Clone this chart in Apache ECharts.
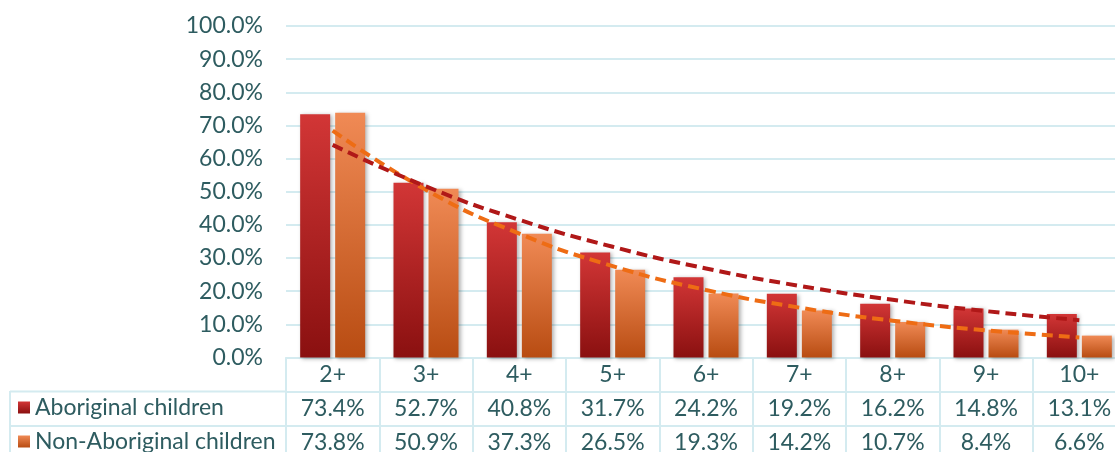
<!DOCTYPE html>
<html>
<head>
<meta charset="utf-8">
<script src="https://cdn.jsdelivr.net/npm/echarts@6/dist/echarts.min.js"></script>
<style>
  html, body { margin: 0; padding: 0; background: #ffffff; }
  #chart { width: 1115px; height: 452px; }
</style>
</head>
<body>
<div id="chart"></div>
<script>
// Share of children, by number of contacts
const categories = ['2+', '3+', '4+', '5+', '6+', '7+', '8+', '9+', '10+'];
const aboriginal = [73.4, 52.7, 40.8, 31.7, 24.2, 19.2, 16.2, 14.8, 13.1];
const nonAboriginal = [73.8, 50.9, 37.3, 26.5, 19.3, 14.2, 10.7, 8.4, 6.6];
const seriesNames = ['Aboriginal children', 'Non-Aboriginal children'];
const yTicks = { min: 0, max: 100, interval: 10 };

// Exponential trendline y = a * e^(b x), least squares on ln(y), x = 1..n
function expTrend(values) {
  const n = values.length;
  const xs = values.map((_, i) => i + 1);
  const ls = values.map(v => Math.log(v));
  const mx = xs.reduce((s, x) => s + x, 0) / n;
  const ml = ls.reduce((s, l) => s + l, 0) / n;
  let sxy = 0, sxx = 0;
  xs.forEach((x, i) => { sxy += (x - mx) * (ls[i] - ml); sxx += (x - mx) * (x - mx); });
  const b = sxy / sxx;
  const a = ml - b * mx;
  return xs.map(x => Math.exp(a + b * x));
}

const TEXT = '#2e5c60';
const RULE = '#d4ebf0';
const FONT = 'Lato';
const FS = 23;

const redFill = new echarts.graphic.LinearGradient(0, 0, 0, 1, [
  { offset: 0, color: '#d23636' }, { offset: 1, color: '#8a1010' }
]);
const orangeFill = new echarts.graphic.LinearGradient(0, 0, 0, 1, [
  { offset: 0, color: '#f08a55' }, { offset: 1, color: '#b84c12' }
]);

const GRID = { left: 286, top: 26, width: 840, height: 331.5, outerBoundsMode: 'none', containLabel: false };
const ROW = 34;

function tableAxis(values, idx) {
  return {
    type: 'category', data: categories, gridIndex: 0, position: 'bottom',
    offset: ROW * idx,
    axisLine: { show: true, lineStyle: { color: RULE, width: 2 } },
    axisTick: { show: false },
    axisLabel: {
      interval: 0, margin: 6, color: TEXT, fontFamily: FONT, fontSize: FS,
      formatter: (v, i) => values[i].toFixed(1) + '%'
    }
  };
}

const legendText = { color: TEXT, fontFamily: FONT, fontSize: FS };

const chart = echarts.init(document.getElementById('chart'), null, { renderer: 'canvas' });
chart.setOption({
  animation: false,
  backgroundColor: '#ffffff',
  grid: GRID,
  legend: [
    {
      data: [seriesNames[0]], orient: 'vertical', left: 18, top: 396, padding: 0,
      icon: 'rect', itemWidth: 12, itemHeight: 12, itemGap: 5, textStyle: legendText
    },
    {
      data: [seriesNames[1]], orient: 'vertical', left: 18, top: 430, padding: 0,
      icon: 'rect', itemWidth: 12, itemHeight: 12, itemGap: 5, textStyle: legendText
    }
  ],
  xAxis: [
    {
      type: 'category', data: categories, position: 'bottom',
      axisLine: { show: true, lineStyle: { color: RULE, width: 2 } },
      axisTick: { show: true, interval: 0, length: 100, lineStyle: { color: RULE, width: 2 } },
      axisLabel: { interval: 0, margin: 6, color: TEXT, fontFamily: FONT, fontSize: FS }
    },
    tableAxis(aboriginal, 1),
    tableAxis(nonAboriginal, 2)
  ],
  yAxis: {
    type: 'value', min: yTicks.min, max: yTicks.max, interval: yTicks.interval,
    axisLine: { show: false }, axisTick: { show: false },
    axisLabel: {
      margin: 23, color: TEXT, fontFamily: FONT, fontSize: FS,
      formatter: v => v.toFixed(1) + '%'
    },
    splitLine: { lineStyle: { color: RULE, width: 2 } }
  },
  series: [
    {
      name: seriesNames[0], type: 'bar', data: aboriginal,
      barWidth: 30, barGap: '16.7%',
      itemStyle: { color: redFill, shadowBlur: 4, shadowColor: 'rgba(0,0,0,0.3)', shadowOffsetX: 2, shadowOffsetY: 1 }
    },
    {
      name: seriesNames[1], type: 'bar', data: nonAboriginal,
      barWidth: 30, barGap: '16.7%',
      itemStyle: { color: orangeFill, shadowBlur: 4, shadowColor: 'rgba(0,0,0,0.3)', shadowOffsetX: 2, shadowOffsetY: 1 }
    },
    {
      name: 'trend-nonAboriginal', type: 'line', data: expTrend(nonAboriginal),
      smooth: true, showSymbol: false, silent: true, z: 4,
      lineStyle: { color: '#ee6c14', width: 4, type: [11, 6] }
    },
    {
      name: 'trend-aboriginal', type: 'line', data: expTrend(aboriginal),
      smooth: true, showSymbol: false, silent: true, z: 5,
      lineStyle: { color: '#b01818', width: 4, type: [11, 6] }
    }
  ],
  graphic: [
    // borders of the row-label column of the data table
    { type: 'line', shape: { x1: 10, y1: 391.5, x2: 286, y2: 391.5 }, style: { stroke: RULE, lineWidth: 2 } },
    { type: 'line', shape: { x1: 10, y1: 426, x2: 286, y2: 426 }, style: { stroke: RULE, lineWidth: 2 } },
    { type: 'line', shape: { x1: 10, y1: 391, x2: 10, y2: 460 }, style: { stroke: RULE, lineWidth: 2 } }
  ]
});
</script>
</body>
</html>
